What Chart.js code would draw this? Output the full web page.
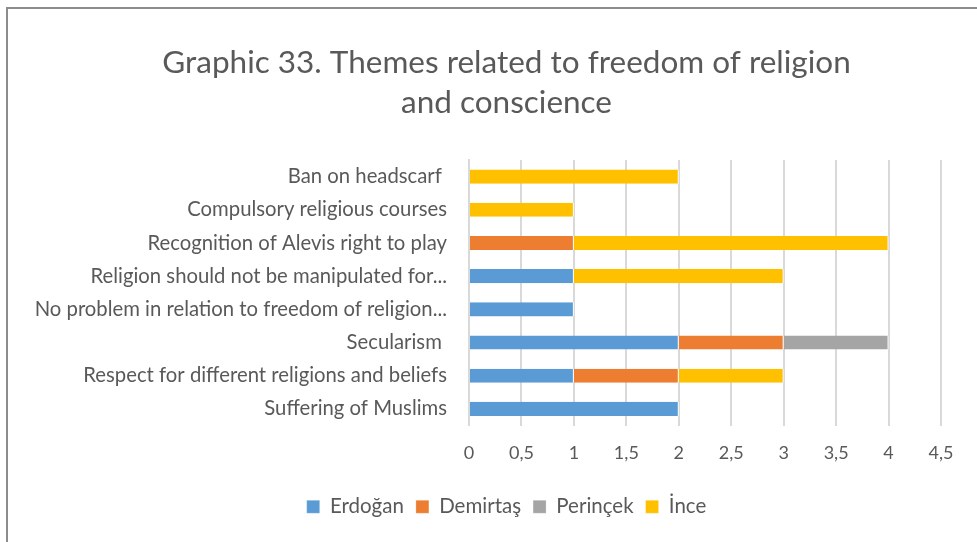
<!DOCTYPE html>
<html>
<head>
<meta charset="utf-8">
<script src="https://cdn.jsdelivr.net/npm/chart.js@4.4.1/dist/chart.umd.min.js"></script>
<style>
  html, body { margin: 0; padding: 0; background: #fff; }
  #wrap { position: relative; width: 977px; height: 542px; overflow: hidden; }
  #frame { position: absolute; left: 6px; top: 7px; width: 1100px; height: 700px; border: 2px solid #8c8c8c; box-sizing: border-box; }
  canvas { position: absolute; left: 0; top: 0; }
</style>
</head>
<body>
<div id="wrap">
  <div id="frame"></div>
  <canvas id="chart" width="977" height="542"></canvas>
</div>
<script>
// Categories, top to bottom
const categories = [
  'Ban on headscarf ',
  'Compulsory religious courses',
  'Recognition of Alevis right to play',
  'Religion should not be manipulated for...',
  'No problem in relation to freedom of religion...',
  'Secularism ',
  'Respect for different religions and beliefs',
  'Suffering of Muslims'
];

const erdogan   = [0, 0, 0, 1, 1, 2, 1, 2];
const demirtas  = [0, 0, 1, 0, 0, 1, 1, 0];
const perincek  = [0, 0, 0, 0, 0, 1, 0, 0];
const ince      = [2, 1, 3, 2, 0, 0, 1, 0];

const seriesNames = ['Erdoğan', 'Demirtaş', 'Perinçek', 'İnce'];
const tickValues = [0, 0.5, 1, 1.5, 2, 2.5, 3, 3.5, 4, 4.5];

const textColor = '#595959';
const font = "Lato, 'Liberation Sans', sans-serif";

const PAD_LEFT = 72;
const PLOT_LEFT = 469;

function ds(label, data, color) {
  return {
    label: label,
    data: data,
    backgroundColor: color,
    borderColor: '#ffffff',
    borderWidth: { left: 0, right: 1, top: 0, bottom: 0 },
    borderSkipped: false,
    barPercentage: 0.85,
    categoryPercentage: 0.5
  };
}

// long category labels run past the left padding, so widen the label clip area
const unclipLabels = {
  id: 'unclipLabels',
  afterLayout(chart) {
    chart.scales.y.left = 0;
  }
};

new Chart(document.getElementById('chart'), {
  type: 'bar',
  data: {
    labels: categories,
    datasets: [
      ds(seriesNames[0], erdogan, '#5B9BD5'),
      ds(seriesNames[1], demirtas, '#ED7D31'),
      ds(seriesNames[2], perincek, '#A5A5A5'),
      ds(seriesNames[3], ince, '#FFC000')
    ]
  },
  plugins: [unclipLabels],
  options: {
    indexAxis: 'y',
    responsive: false,
    animation: false,
    layout: { padding: { left: PAD_LEFT, right: 36, top: 43, bottom: 15 } },
    plugins: {
      title: {
        display: true,
        text: ['Graphic 33. Themes related to freedom of religion', 'and conscience'],
        color: textColor,
        font: { family: font, size: 31.5, weight: 'normal', lineHeight: 1.27 },
        padding: { top: 0, bottom: 37 }
      },
      legend: {
        position: 'bottom',
        labels: {
          color: textColor,
          font: { family: font, size: 20.5 },
          boxWidth: 13,
          boxHeight: 13,
          padding: 12
        }
      },
      tooltip: { enabled: false }
    },
    scales: {
      x: {
        stacked: true,
        min: 0,
        max: 4.5,
        afterBuildTicks: function(scale) {
          scale.ticks = tickValues.map(v => ({ value: v }));
        },
        afterFit: function(scale) {
          scale.height = 59;
        },
        ticks: {
          color: textColor,
          font: { family: font, size: 18 },
          padding: 17,
          callback: v => String(v).replace('.', ',')
        },
        grid: { color: '#d9d9d9', lineWidth: 2, drawTicks: false },
        border: { display: false }
      },
      y: {
        stacked: true,
        afterFit: function(scale) {
          scale.width = PLOT_LEFT - PAD_LEFT;
        },
        ticks: {
          color: textColor,
          font: { family: font, size: 20.3 },
          padding: 22
        },
        grid: { display: false, drawTicks: false },
        border: { display: true, color: '#d9d9d9', width: 2 }
      }
    }
  }
});
</script>
</body>
</html>
